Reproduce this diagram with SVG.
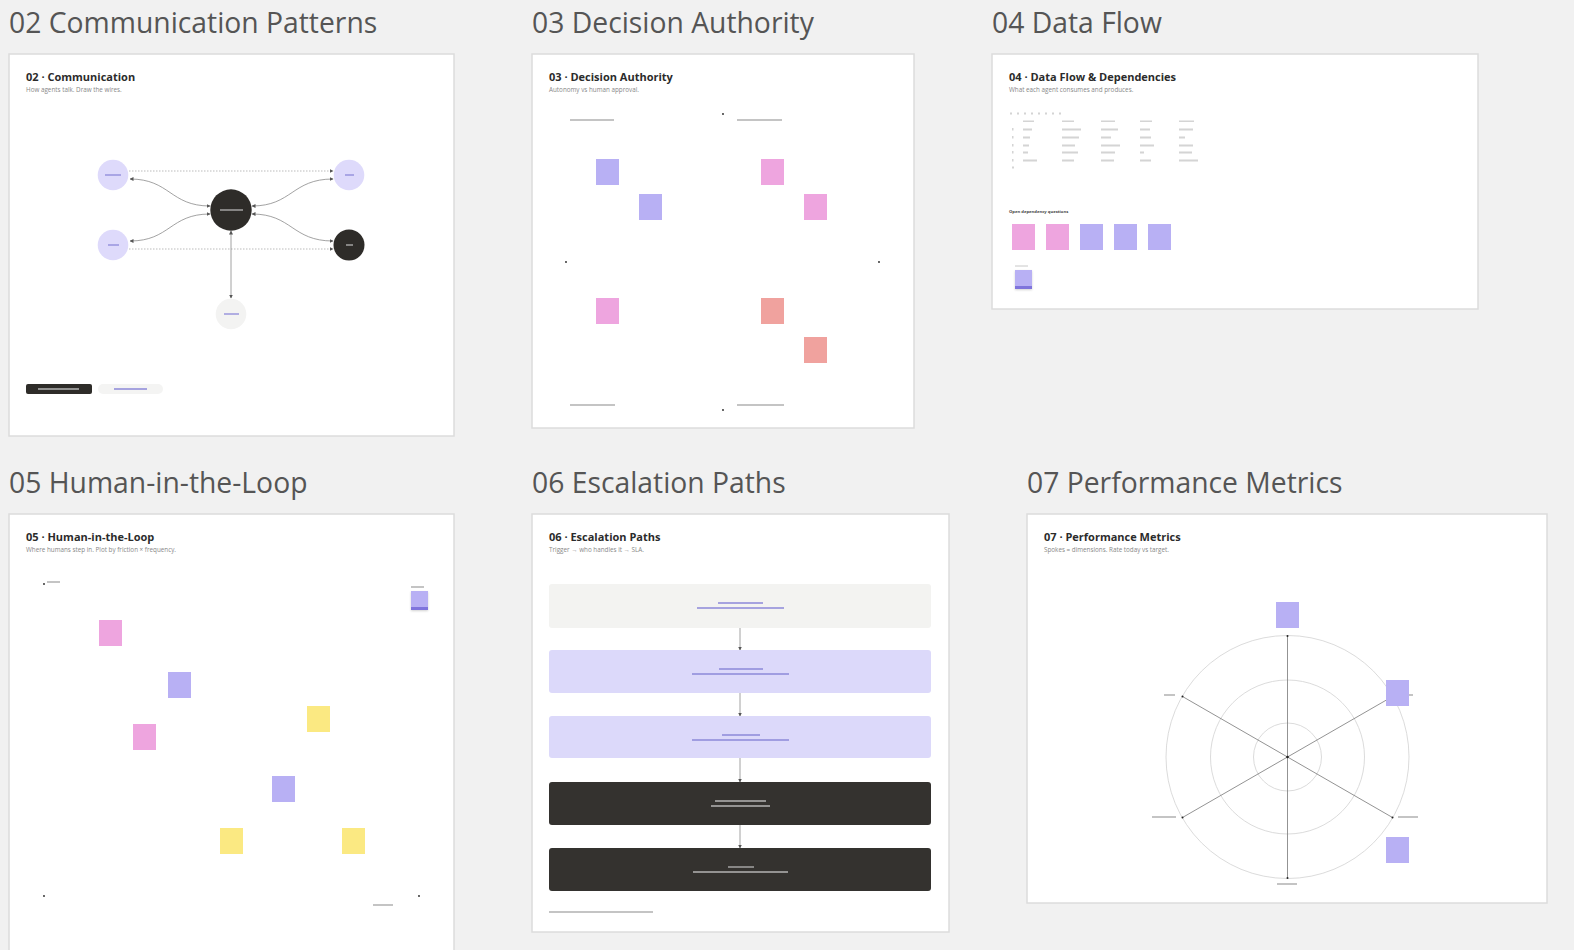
<svg xmlns="http://www.w3.org/2000/svg" width="1574" height="950" viewBox="0 0 1574 950">
<style>
.h{font-family:"Open Sans","Noto Sans",sans-serif;font-size:28.3px;fill:#555;}
.t{font-family:"Open Sans","Noto Sans",sans-serif;font-size:11px;font-weight:700;fill:#2b2b2b;}
.s{font-family:"Open Sans","Noto Sans",sans-serif;font-size:6.3px;fill:#888;}
.frame{fill:#fff;stroke:#dcdcdc;stroke-width:1.5;}
.lav{fill:#dedafb;}
.blk{fill:#2e2c29;}
.pl{stroke:#8d88d8;stroke-width:1.3;}
.gl{stroke:#b5b5b5;stroke-width:1.3;}
.gd{stroke:#b0b0b0;stroke-width:1.5;}
.con{fill:none;stroke:#8a8a8a;stroke-width:0.8;}
.dot{fill:none;stroke:#aaa;stroke-width:0.8;stroke-dasharray:1.5 1.5;}
.pu{fill:#b8b0f4;}
.pk{fill:#eea5df;}
.sa{fill:#f0a29e;}
.ye{fill:#fbe982;}
.cd{fill:#222;}
.ring{fill:none;stroke:#d2d2d2;stroke-width:0.8;}
.spk{stroke:#777;stroke-width:0.8;}
</style>
<defs>
<marker id="a" markerWidth="4" markerHeight="4" refX="3.5" refY="2" orient="auto-start-reverse" markerUnits="userSpaceOnUse"><path d="M0,0 L4,2 L0,4 z" fill="#555"/></marker>
<filter id="sh" x="-30%" y="-30%" width="160%" height="160%"><feDropShadow dx="0" dy="1" stdDeviation="1.2" flood-color="#000" flood-opacity="0.18"/></filter>
</defs>
<rect width="1574" height="950" fill="#f1f1f1"/>

<!-- Panel 02 -->
<g id="panel-02">
<text class="h" x="9" y="33">02 Communication Patterns</text>
<rect class="frame" x="9" y="54" width="445" height="382"/>
<text class="t" x="26" y="81">02 · Communication</text>
<text class="s" x="26" y="92">How agents talk. Draw the wires.</text>
</g>
<g id="connectors-02">
<path class="dot" d="M129,171 L333,171" marker-end="url(#a)"/>
<path class="dot" d="M129,249 L333,249" marker-end="url(#a)"/>
<path class="con" d="M210,206 C170,206 170,179 130,179" marker-start="url(#a)" marker-end="url(#a)"/>
<path class="con" d="M130,241 C170,241 170,214 210,214" marker-start="url(#a)" marker-end="url(#a)"/>
<path class="con" d="M252,206 C292,206 292,179 333,179" marker-start="url(#a)" marker-end="url(#a)"/>
<path class="con" d="M252,214 C292,214 292,241 333,241" marker-start="url(#a)" marker-end="url(#a)"/>
<path class="con" d="M231,231 L231,298" marker-start="url(#a)" marker-end="url(#a)"/>
</g>
<g id="node-lt"><circle class="lav" cx="113" cy="175" r="15.3"/><line class="pl" x1="105" y1="175" x2="121" y2="175"/></g>
<g id="node-lb"><circle class="lav" cx="113" cy="245" r="15.3"/><line class="pl" x1="108" y1="245" x2="119" y2="245"/></g>
<g id="node-c"><circle class="blk" cx="231" cy="210" r="20.7"/><line class="gl" x1="220" y1="210" x2="243" y2="210"/></g>
<g id="node-rt"><circle class="lav" cx="349" cy="175" r="15.3"/><line class="pl" x1="345" y1="175" x2="354" y2="175"/></g>
<g id="node-rb"><circle class="blk" cx="349" cy="245" r="15.5"/><line class="gl" x1="346" y1="245" x2="353" y2="245"/></g>
<g id="node-b"><circle fill="#f3f3f2" cx="231" cy="314" r="15.3"/><line class="pl" x1="224" y1="314" x2="239" y2="314"/></g>
<g id="legend-02">
<rect class="blk" x="26" y="384" width="66" height="10" rx="2"/><line class="gl" x1="38" y1="389" x2="79" y2="389"/>
<rect fill="#f4f4f3" x="98" y="384" width="65" height="10" rx="5"/><line class="pl" x1="114" y1="389" x2="147" y2="389"/>
</g>

<!-- Panel 03 -->
<g id="panel-03">
<text class="h" x="532" y="33">03 Decision Authority</text>
<rect class="frame" x="532" y="54" width="382" height="374"/>
<text class="t" x="549" y="81">03 · Decision Authority</text>
<text class="s" x="549" y="92">Autonomy vs human approval.</text>
<line class="gd" x1="570" y1="120" x2="614" y2="120"/>
<line class="gd" x1="737" y1="120" x2="782" y2="120"/>
<line class="gd" x1="570" y1="405" x2="615" y2="405"/>
<line class="gd" x1="737" y1="405" x2="784" y2="405"/>
<circle class="cd" cx="723" cy="114" r="0.9"/>
<circle class="cd" cx="566" cy="262" r="0.9"/>
<circle class="cd" cx="879" cy="262" r="0.9"/>
<circle class="cd" cx="723" cy="410" r="0.9"/>
</g>
<g id="sticky-03-1"><rect class="pu" x="596" y="159" width="23" height="26"/></g>
<g id="sticky-03-2"><rect class="pu" x="639" y="194" width="23" height="26"/></g>
<g id="sticky-03-3"><rect class="pk" x="761" y="159" width="23" height="26"/></g>
<g id="sticky-03-4"><rect class="pk" x="804" y="194" width="23" height="26"/></g>
<g id="sticky-03-5"><rect class="pk" x="596" y="298" width="23" height="26"/></g>
<g id="sticky-03-6"><rect class="sa" x="761" y="298" width="23" height="26"/></g>
<g id="sticky-03-7"><rect class="sa" x="804" y="337" width="23" height="26"/></g>

<!-- Panel 04 -->
<g id="panel-04">
<text class="h" x="992" y="33">04 Data Flow</text>
<rect class="frame" x="992" y="54" width="486" height="255"/>
<text class="t" x="1009" y="81">04 · Data Flow &amp; Dependencies</text>
<text class="s" x="1009" y="92">What each agent consumes and produces.</text>
</g>
<g id="table-04" fill="#d4d4d4">
<rect x="1010" y="112.5" width="2" height="2"/><rect x="1017" y="112.5" width="2" height="2"/><rect x="1024" y="112.5" width="2" height="2"/><rect x="1031" y="112.5" width="2" height="2"/><rect x="1038" y="112.5" width="2" height="2"/><rect x="1045" y="112.5" width="2" height="2"/><rect x="1052" y="112.5" width="2" height="2"/><rect x="1059" y="112.5" width="2" height="2"/>
<rect x="1023" y="120.5" width="11" height="1.5"/><rect x="1062" y="120.5" width="12" height="1.5"/><rect x="1101" y="120.5" width="14" height="1.5"/><rect x="1140" y="120.5" width="12" height="1.5"/><rect x="1179" y="120.5" width="15" height="1.5"/>
<rect x="1012" y="128" width="1.5" height="2.5"/><rect x="1023" y="128.5" width="9" height="2"/><rect x="1062" y="128.5" width="19" height="2"/><rect x="1101" y="128.5" width="17" height="2"/><rect x="1140" y="128.5" width="10" height="2"/><rect x="1179" y="128.5" width="14" height="2"/>
<rect x="1012" y="136" width="1.5" height="2.5"/><rect x="1023" y="136.5" width="7" height="2"/><rect x="1062" y="136.5" width="17" height="2"/><rect x="1101" y="136.5" width="10" height="2"/><rect x="1140" y="136.5" width="11" height="2"/><rect x="1179" y="136.5" width="6" height="2"/>
<rect x="1012" y="144" width="1.5" height="2.5"/><rect x="1023" y="144.5" width="6" height="2"/><rect x="1062" y="144.5" width="13" height="2"/><rect x="1101" y="144.5" width="19" height="2"/><rect x="1140" y="144.5" width="14" height="2"/><rect x="1179" y="144.5" width="14" height="2"/>
<rect x="1012" y="151" width="1.5" height="2.5"/><rect x="1023" y="151.5" width="5" height="2"/><rect x="1062" y="151.5" width="16" height="2"/><rect x="1101" y="151.5" width="14" height="2"/><rect x="1140" y="151.5" width="4" height="2"/><rect x="1179" y="151.5" width="13" height="2"/>
<rect x="1012" y="159" width="1.5" height="2.5"/><rect x="1023" y="159.5" width="14" height="2"/><rect x="1062" y="159.5" width="12" height="2"/><rect x="1101" y="159.5" width="13" height="2"/><rect x="1140" y="159.5" width="11" height="2"/><rect x="1179" y="159.5" width="19" height="2"/>
<rect x="1012" y="166.5" width="2" height="2"/>
</g>
<text x="1009" y="213" font-family="'Open Sans','Noto Sans',sans-serif" font-size="4.2" font-weight="700" fill="#444">Open dependency questions</text>
<g id="sticky-04-1"><rect class="pk" x="1012" y="224" width="23" height="26"/></g>
<g id="sticky-04-2"><rect class="pk" x="1046" y="224" width="23" height="26"/></g>
<g id="sticky-04-3"><rect class="pu" x="1080" y="224" width="23" height="26"/></g>
<g id="sticky-04-4"><rect class="pu" x="1114" y="224" width="23" height="26"/></g>
<g id="sticky-04-5"><rect class="pu" x="1148" y="224" width="23" height="26"/></g>
<g id="sticky-04-6">
<line x1="1015" y1="266" x2="1028" y2="266" stroke="#c8c8c8" stroke-width="1"/>
<g filter="url(#sh)"><rect class="pu" x="1015" y="270" width="17" height="19"/></g>
<rect fill="#7f74dc" x="1015" y="286" width="17" height="3"/>
</g>

<!-- Panel 05 -->
<g id="panel-05">
<text class="h" x="9" y="493">05 Human-in-the-Loop</text>
<rect class="frame" x="9" y="514" width="445" height="450"/>
<text class="t" x="26" y="541">05 · Human-in-the-Loop</text>
<text class="s" x="26" y="552">Where humans step in. Plot by friction × frequency.</text>
<circle class="cd" cx="44" cy="584" r="0.9"/>
<circle class="cd" cx="44" cy="896" r="0.9"/>
<circle class="cd" cx="419" cy="896" r="0.9"/>
<line class="gd" x1="47" y1="582" x2="60" y2="582"/>
<line class="gd" x1="411" y1="587" x2="424" y2="587"/>
<line class="gd" x1="373" y1="905" x2="393" y2="905"/>
</g>
<g id="sticky-05-0">
<g filter="url(#sh)"><rect class="pu" x="411" y="591" width="17" height="19"/></g>
<rect fill="#7f74dc" x="411" y="607" width="17" height="3"/>
</g>
<g id="sticky-05-1"><rect class="pk" x="99" y="620" width="23" height="26"/></g>
<g id="sticky-05-2"><rect class="pu" x="168" y="672" width="23" height="26"/></g>
<g id="sticky-05-3"><rect class="ye" x="307" y="706" width="23" height="26"/></g>
<g id="sticky-05-4"><rect class="pk" x="133" y="724" width="23" height="26"/></g>
<g id="sticky-05-5"><rect class="pu" x="272" y="776" width="23" height="26"/></g>
<g id="sticky-05-6"><rect class="ye" x="220" y="828" width="23" height="26"/></g>
<g id="sticky-05-7"><rect class="ye" x="342" y="828" width="23" height="26"/></g>

<!-- Panel 06 -->
<g id="panel-06">
<text class="h" x="532" y="493">06 Escalation Paths</text>
<rect class="frame" x="532" y="514" width="417" height="418"/>
<text class="t" x="549" y="541">06 · Escalation Paths</text>
<text class="s" x="549" y="552">Trigger → who handles it → SLA.</text>
<line class="gd" x1="549" y1="912" x2="653" y2="912"/>
</g>
<g id="connectors-06">
<path class="con" d="M740,628 L740,650" marker-end="url(#a)"/>
<path class="con" d="M740,693 L740,716" marker-end="url(#a)"/>
<path class="con" d="M740,758 L740,782" marker-end="url(#a)"/>
<path class="con" d="M740,825 L740,848" marker-end="url(#a)"/>
</g>
<g id="esc-1"><rect fill="#f3f3f1" x="549" y="584" width="382" height="44" rx="3"/><line class="pl" x1="718" y1="603" x2="763" y2="603"/><line class="pl" x1="697" y1="608" x2="784" y2="608"/></g>
<g id="esc-2"><rect fill="#dcd9fa" x="549" y="650" width="382" height="43" rx="3"/><line class="pl" x1="719" y1="669" x2="763" y2="669"/><line class="pl" x1="692" y1="674" x2="789" y2="674"/></g>
<g id="esc-3"><rect fill="#dcd9fa" x="549" y="716" width="382" height="42" rx="3"/><line class="pl" x1="722" y1="735" x2="760" y2="735"/><line class="pl" x1="692" y1="740" x2="789" y2="740"/></g>
<g id="esc-4"><rect fill="#34322f" x="549" y="782" width="382" height="43" rx="3"/><line class="gl" x1="715" y1="801" x2="766" y2="801"/><line class="gl" x1="711" y1="806" x2="770" y2="806"/></g>
<g id="esc-5"><rect fill="#34322f" x="549" y="848" width="382" height="43" rx="3"/><line class="gl" x1="728" y1="867" x2="754" y2="867"/><line class="gl" x1="693" y1="872" x2="788" y2="872"/></g>

<!-- Panel 07 -->
<g id="panel-07">
<text class="h" x="1027" y="493">07 Performance Metrics</text>
<rect class="frame" x="1027" y="514" width="520" height="389"/>
<text class="t" x="1044" y="541">07 · Performance Metrics</text>
<text class="s" x="1044" y="552">Spokes = dimensions. Rate today vs target.</text>
</g>
<g id="radar-07">
<circle class="ring" cx="1287.5" cy="757" r="121.5"/>
<circle class="ring" cx="1287.5" cy="757" r="77"/>
<circle class="ring" cx="1287.5" cy="757" r="34"/>
<line class="spk" x1="1287.5" y1="636" x2="1287.5" y2="878"/>
<line class="spk" x1="1182.5" y1="696.5" x2="1392.5" y2="817.5"/>
<line class="spk" x1="1182.5" y1="817.5" x2="1392.5" y2="696.5"/>
<g class="cd">
<circle cx="1287.5" cy="636" r="1"/><circle cx="1287.5" cy="878" r="1"/><circle cx="1182.5" cy="696.5" r="1"/><circle cx="1392.5" cy="817.5" r="1"/><circle cx="1182.5" cy="817.5" r="1"/><circle cx="1392.5" cy="696.5" r="1"/><circle cx="1287.5" cy="757" r="1.3"/>
</g>
<line class="gd" x1="1164" y1="695" x2="1175" y2="695"/>
<line class="gd" x1="1401" y1="695" x2="1413" y2="695"/>
<line class="gd" x1="1152" y1="817" x2="1176" y2="817"/>
<line class="gd" x1="1398" y1="817" x2="1418" y2="817"/>
<line class="gd" x1="1277" y1="884" x2="1297" y2="884"/>
</g>
<g id="sticky-07-1"><rect class="pu" x="1276" y="602" width="23" height="26"/></g>
<g id="sticky-07-2"><rect class="pu" x="1386" y="680" width="23" height="26"/></g>
<g id="sticky-07-3"><rect class="pu" x="1386" y="837" width="23" height="26"/></g>
</svg>
